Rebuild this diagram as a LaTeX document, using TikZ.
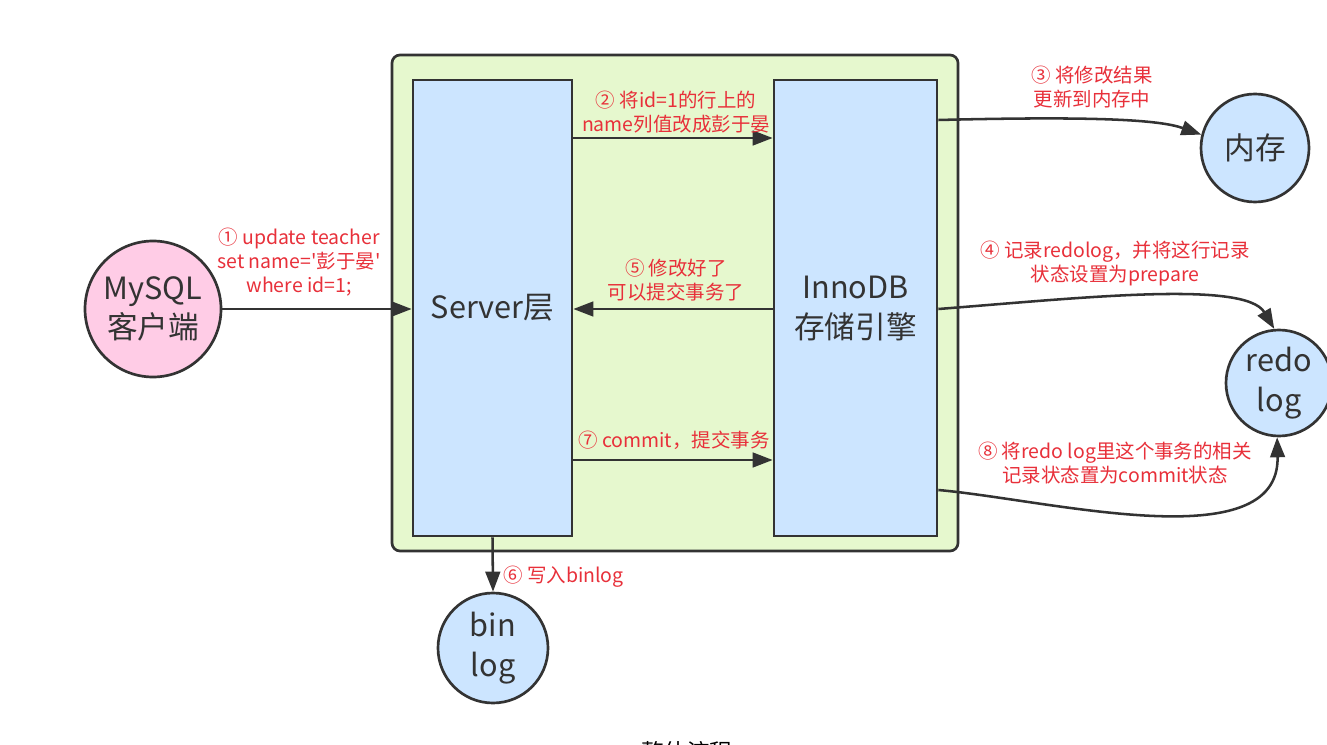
\documentclass[tikz,border=0pt]{standalone}
\usepackage{fontspec}
\setmainfont{Noto Sans CJK SC}
\usetikzlibrary{arrows.meta}
\definecolor{lgreen}{HTML}{E6F8CE}
\definecolor{lblue}{HTML}{CCE5FF}
\definecolor{lpink}{HTML}{FFCCE6}
\definecolor{lred}{HTML}{E8303A}
\definecolor{dline}{HTML}{333333}
\definecolor{dtext}{HTML}{333333}
\begin{document}
\begin{tikzpicture}[x=0.75pt,y=-0.75pt,
  conn/.style={draw=dline,line width=1.9pt,-{Triangle[length=15pt,width=11pt]}},
  lbl/.style={text=lred,font=\fontsize{14.6}{18}\selectfont,align=center,inner sep=0pt},
  boxst/.style={rectangle,draw=dline,line width=2pt,fill=lblue,text=dtext,
    font=\fontsize{23}{30}\selectfont,align=center,minimum height=342pt},
  circst/.style={circle,draw=dline,line width=2pt,fill=lblue,inner sep=0pt,
    text=dtext,font=\fontsize{23}{29}\selectfont,align=center}
]
\useasboundingbox (0,0) rectangle (1327,745);
\fill[white] (0,0) rectangle (1327,745);
% container
\node[rectangle,rounded corners=6pt,draw=dline,line width=2pt,fill=lgreen,
  minimum width=424.5pt,minimum height=372pt] (cont) at (675,303) {};
% boxes
\node[boxst,minimum width=119.25pt] (srv) at (492.5,308) {Server层};
\node[boxst,minimum width=122.25pt] (inno) at (855.5,308) {InnoDB\\存储引擎};
% circles
\node[circst,fill=lpink,minimum size=102pt] (client) at (153,309) {MySQL\\客户端};
\node[circst,minimum size=81pt] (mem) at (1255,148) {内存};
\node[circst,minimum size=79.5pt,font=\fontsize{23}{30}\selectfont] (redo) at (1279,383) {redo\\log};
\node[circst,minimum size=82.5pt,font=\fontsize{23}{30}\selectfont] (binlog) at (493,648) {bin\\log};
% helper coordinates
\coordinate (y2) at (0,138);
\coordinate (y3) at (0,120);
\coordinate (y4) at (0,309);
\coordinate (y7) at (0,460);
\coordinate (y8) at (0,490);
% connectors
\draw[conn] (client.east) -- (srv.west |- client.east);
\draw[conn] (srv.east |- y2) -- (inno.west |- y2);
\draw[conn] (inno.east |- y3) .. controls (1100,116) and (1160,120) .. (mem.166);
\draw[conn] (inno.east |- y4) .. controls (1080,298) and (1245,280) .. (redo.95);
\draw[conn] (inno.west |- y4) -- (srv.east |- y4);
\draw[conn] (srv.south) -- (binlog.north);
\draw[conn] (srv.east |- y7) -- (inno.west |- y7);
\draw[conn] (inno.east |- y8) .. controls (1050,500) and (1280,560) .. (redo.268);
% labels
\node[lbl] (l1) at (299,262) {① update teacher\\set name=\textquotesingle 彭于晏\textquotesingle\\where id=1;};
\node[lbl] (l2) at (676,112) {② 将id=1的行上的\\name列值改成彭于晏};
\node[lbl] (l3) at (1092,87) {③ 将修改结果\\更新到内存中};
\node[lbl] (l4) at (1115,263) {④ 记录redolog，并将这行记录\\状态设置为prepare};
\node[lbl] (l5) at (676,280) {⑤ 修改好了\\可以提交事务了};
\node[lbl,anchor=west] (l6) at (503,577) {⑥ 写入binlog};
\node[lbl] (l7) at (674,440) {⑦ commit，提交事务};
\node[lbl] (l8) at (1115,463) {⑧ 将redo log里这个事务的相关\\记录状态置为commit状态};
% caption
\node[text=black,font=\fontsize{17}{20}\selectfont,inner sep=0pt] (cap) at (687,752) {整体流程};
\end{tikzpicture}
\end{document}
